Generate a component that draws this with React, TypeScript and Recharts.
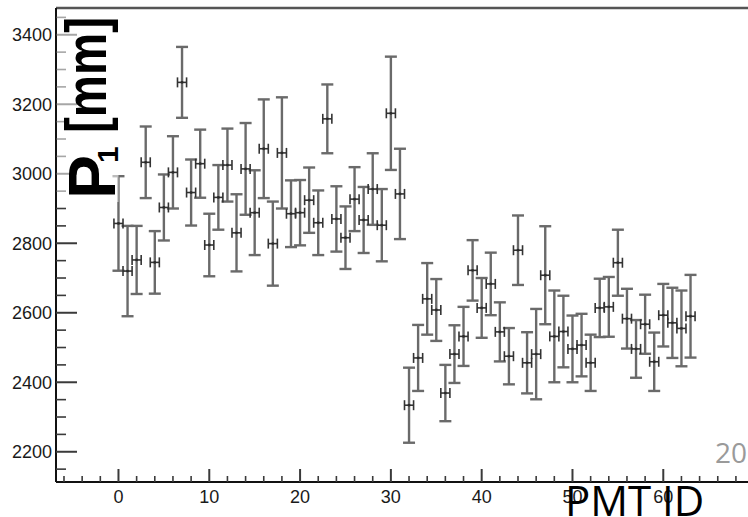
import React from 'react';
import { ScatterChart, Scatter, XAxis, YAxis, ErrorBar, ReferenceLine } from 'recharts';

const pmtIds = [
  0, 1, 2, 3, 4, 5, 6, 7, 8, 9, 10, 11, 12, 13, 14, 15,
  16, 17, 18, 19, 20, 21, 22, 23, 24, 25, 26, 27, 28, 29, 30, 31,
  32, 33, 34, 35, 36, 37, 38, 39, 40, 41, 42, 43, 44, 45, 46, 47,
  48, 49, 50, 51, 52, 53, 54, 55, 56, 57, 58, 59, 60, 61, 62, 63,
];

const p1Values = [
  2857, 2720, 2752, 3033, 2745, 2903, 3004, 3263, 2946, 3029, 2795, 2932, 3025, 2830, 3014, 2888,
  3072, 2799, 3060, 2885, 2888, 2924, 2859, 3158, 2870, 2816, 2927, 2867, 2956, 2852, 3174, 2942,
  2334, 2470, 2640, 2608, 2369, 2481, 2532, 2722, 2614, 2683, 2545, 2475, 2780, 2456, 2481, 2708,
  2532, 2546, 2496, 2507, 2456, 2614, 2617, 2744, 2583, 2496, 2567, 2459, 2593, 2571, 2555, 2590,
];

const p1Errors = [
  136, 130, 98, 103, 90, 95, 104, 102, 95, 98, 90, 93, 105, 111, 132, 122,
  142, 121, 160, 96, 94, 94, 93, 99, 94, 90, 92, 95, 103, 104, 163, 130,
  108, 95, 103, 89, 81, 83, 85, 87, 86, 90, 85, 81, 100, 88, 130, 141,
  132, 103, 96, 90, 81, 84, 86, 95, 86, 83, 85, 84, 90, 101, 109, 119,
];

const idHalfWidth = 0.5;

const xMajorTicks = [0, 10, 20, 30, 40, 50, 60];
const xAllTicks = [
  -6, -4, -2, 0, 2, 4, 6, 8, 10, 12, 14, 16, 18, 20, 22, 24, 26, 28, 30, 32, 34, 36,
  38, 40, 42, 44, 46, 48, 50, 52, 54, 56, 58, 60, 62, 64, 66, 68,
];
const yMajorTicks = [2200, 2400, 2600, 2800, 3000, 3200, 3400];
const yAllTicks = [
  2150, 2200, 2250, 2300, 2350, 2400, 2450, 2500, 2550, 2600, 2650, 2700, 2750, 2800,
  2850, 2900, 2950, 3000, 3050, 3100, 3150, 3200, 3250, 3300, 3350, 3400, 3450,
];

const xDomain = [-6.88, 69.33];
const yDomain = [2113, 3477];

const data = pmtIds.map((id, i) => ({
  id,
  p1: p1Values[i],
  ey: p1Errors[i],
  ex: idHalfWidth,
}));

const FONT = '"Liberation Sans", Arial, Helvetica, sans-serif';

const YTick = (props: any) => {
  const { x, y, payload } = props;
  const v = payload.value;
  const major = yMajorTicks.includes(v);
  return (
    <g>
      <line x1={x} x2={x + (major ? 21 : 10)} y1={y} y2={y} stroke="#3a3a3a" strokeWidth={major ? 2 : 1.6} />
      {major && (
        <text x={x - 4} y={y} dy="0.36em" textAnchor="end" fontSize={18} fontFamily={FONT} fill="#1a1a1a">
          {v}
        </text>
      )}
    </g>
  );
};

const XTick = (props: any) => {
  const { x, y, payload } = props;
  const v = payload.value;
  const major = xMajorTicks.includes(v);
  return (
    <g>
      <line x1={x} x2={x} y1={y} y2={y - (major ? 13 : 6)} stroke="#3a3a3a" strokeWidth={major ? 2 : 1.6} />
      {major && (
        <text x={x} y={y + 21} textAnchor="middle" fontSize={18} fontFamily={FONT} fill="#1a1a1a">
          {v}
        </text>
      )}
    </g>
  );
};

const PointShape = (props: any) => {
  const { cx, cy } = props;
  return <circle cx={cx} cy={cy} r={1.4} fill="#2a2a2a" />;
};

export default function App() {
  return (
    <div style={{ position: 'absolute', left: 0, top: 0, width: 748, height: 517, overflow: 'hidden', background: '#fff' }}>
      <ScatterChart width={748} height={517} margin={{ top: 8, right: 0, bottom: 0, left: 0 }}>
        <XAxis
          type="number"
          dataKey="id"
          domain={xDomain}
          allowDataOverflow
          ticks={xAllTicks}
          interval={0}
          tick={<XTick />}
          tickLine={false}
          tickSize={0}
          tickMargin={0}
          height={35}
          axisLine={{ stroke: '#111', strokeWidth: 2 }}
        />
        <YAxis
          type="number"
          dataKey="p1"
          domain={yDomain}
          allowDataOverflow
          ticks={yAllTicks}
          interval={0}
          tick={<YTick />}
          tickLine={false}
          tickSize={0}
          tickMargin={0}
          width={56}
          axisLine={{ stroke: '#111', strokeWidth: 2 }}
        />
        <ReferenceLine y={yDomain[1]} stroke="#555" strokeWidth={2.5} />
        <Scatter data={data} isAnimationActive={false} shape={<PointShape />}>
          <ErrorBar dataKey="ey" direction="y" width={6} stroke="#6a6a6a" strokeWidth={2.4} />
          <ErrorBar dataKey="ex" direction="x" width={5} stroke="#333" strokeWidth={1.6} />
        </Scatter>
      </ScatterChart>
      <svg
        width={748}
        height={517}
        style={{ position: 'absolute', left: 0, top: 0, pointerEvents: 'none' }}
      >
        <rect x={57} y={10} width={61.5} height={192} fill="#fff" fillOpacity={0.55} />
        <text
          transform="translate(115,199) rotate(-90)"
          fontSize={66}
          fontWeight="bold"
          fontFamily={FONT}
          fill="#000"
        >
          P
        </text>
        <text
          transform="translate(118,163) rotate(-90)"
          fontSize={30}
          fontWeight="bold"
          fontFamily={FONT}
          fill="#000"
        >
          1
        </text>
        <text
          transform="translate(106,133) rotate(-90)"
          fontSize={58}
          fontWeight="bold"
          fontFamily={FONT}
          fill="#000"
          textLength={116}
          lengthAdjust="spacingAndGlyphs"
        >
          [mm]
        </text>
        <text x={715} y={463} fontSize={28} fontFamily='"Open Sans", "Noto Sans", sans-serif' fill="#9a9a9a">
          20
        </text>
        <text x={565} y={516} fontSize={42} fontFamily='"Open Sans", "Noto Sans", sans-serif' fill="#000">
          PMT ID
        </text>
      </svg>
    </div>
  );
}
